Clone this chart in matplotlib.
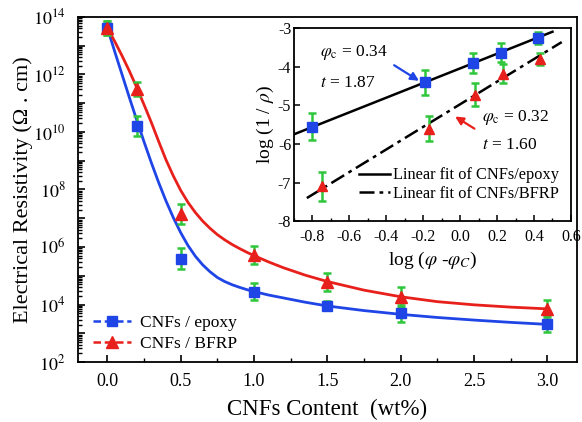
import numpy as np
import matplotlib
matplotlib.use("Agg")
import matplotlib.pyplot as plt
from matplotlib.ticker import MultipleLocator, FixedLocator, FuncFormatter, LogLocator, NullFormatter

plt.rcParams['font.family'] = ['Liberation Serif', 'DejaVu Serif']
plt.rcParams['mathtext.fontset'] = 'stix'
plt.rcParams['axes.unicode_minus'] = False

# ---------------- main data (log10 of resistivity) ----------------
content = [0.0, 0.2, 0.5, 1.0, 1.5, 2.0, 3.0]
epoxy_log = [13.62, 10.2, 5.6, 4.45, 3.96, 3.7, 3.33]
bfrp_log = [13.62, 11.5, 7.15, 5.72, 4.78, 4.25, 3.85]
epoxy_err = [0.25, 0.35, 0.35, 0.3, 0.15, 0.3, 0.3]
bfrp_err = [0.25, 0.25, 0.35, 0.3, 0.3, 0.35, 0.3]

# fitted curves (log10)
curve_x = [0.0, 0.05, 0.1, 0.15, 0.2, 0.25, 0.3, 0.35, 0.4, 0.45, 0.5, 0.55, 0.6, 0.65,
           0.7, 0.75, 0.8, 0.85, 0.9, 0.95, 1.0, 1.1, 1.2, 1.35, 1.5, 1.75, 2.0, 2.25,
           2.5, 2.75, 3.0]
epoxy_curve = [13.62, 12.8, 12.0, 11.2, 10.42, 9.66, 8.93, 8.24, 7.6, 7.02, 6.5, 6.05, 5.68,
               5.38, 5.14, 4.94, 4.8, 4.69, 4.6, 4.52, 4.45, 4.33, 4.23, 4.08, 3.95, 3.79,
               3.66, 3.55, 3.46, 3.38, 3.31]
bfrp_curve = [13.62, 13.15, 12.65, 12.12, 11.55, 10.95, 10.33, 9.67, 9.03, 8.47, 7.97, 7.55,
              7.2, 6.9, 6.65, 6.43, 6.25, 6.09, 5.95, 5.82, 5.7, 5.48, 5.28, 5.02, 4.8, 4.5,
              4.27, 4.1, 3.99, 3.91, 3.85]

# ---------------- inset data ----------------
in_ep_x = [-0.8, -0.19, 0.07, 0.22, 0.42]
in_ep_y = [-5.55, -4.4, -3.9, -3.63, -3.25]
in_ep_err = [0.35, 0.32, 0.25, 0.25, 0.15]
in_bf_x = [-0.75, -0.17, 0.08, 0.23, 0.43]
in_bf_y = [-7.1, -5.6, -4.72, -4.18, -3.8]
in_bf_err = [0.38, 0.32, 0.3, 0.25, 0.15]
fit_ep = (1.9, -4.04)     # slope, intercept
fit_bf = (2.93, -4.97)
fit_ep_range = [-0.9, 0.5]
fit_bf_range = [-0.83, 0.55]

BLUE = '#1f45e6'
RED = '#e8201c'
GREEN = '#2fc63c'

fig = plt.figure(figsize=(5.82, 4.22), dpi=100)
ax = fig.add_axes([0.134, 0.142, 0.857, 0.818])

ep = 10 ** np.array(epoxy_log)
bf = 10 ** np.array(bfrp_log)
epe = np.array(epoxy_err)
bfe = np.array(bfrp_err)

ax.plot(curve_x, 10 ** np.array(epoxy_curve), color=BLUE, lw=2.0, zorder=2)
ax.plot(curve_x, 10 ** np.array(bfrp_curve), color=RED, lw=2.0, zorder=2)
ax.errorbar(content, ep, yerr=[ep - ep / 10 ** epe, ep * 10 ** epe - ep], fmt='none',
            ecolor=GREEN, elinewidth=1.8, capsize=3, capthick=1.8, zorder=3)
ax.errorbar(content, bf, yerr=[bf - bf / 10 ** bfe, bf * 10 ** bfe - bf], fmt='none',
            ecolor=GREEN, elinewidth=1.8, capsize=3, capthick=1.8, zorder=3)
ax.plot(content, ep, 's', color=BLUE, ms=7, zorder=4)
ax.plot(content, bf, '^', color=RED, ms=8, zorder=4)

# legend proxies
h1, = ax.plot([], [], '--s', color=BLUE, ms=7, lw=1.8, dashes=(3, 1.5))
h2, = ax.plot([], [], '--^', color=RED, ms=8, lw=1.8, dashes=(3, 1.5))
leg = ax.legend([h1, h2], ['CNFs / epoxy', 'CNFs / BFRP'], loc='lower left',
                bbox_to_anchor=(0.005, -0.005), frameon=False, fontsize=12.5,
                handlelength=2.2, handletextpad=0.5, labelspacing=0.25, borderaxespad=0.3)

ax.set_yscale('log')
ax.set_ylim(1e2, 1e14)
ax.set_xlim(-0.2, 3.2)
ax.yaxis.set_major_locator(FixedLocator([10.0 ** k for k in range(2, 15)]))
ax.yaxis.set_major_formatter(FuncFormatter(
    lambda v, p: (r'$10^{%d}$' % round(np.log10(v))) if round(np.log10(v)) % 2 == 0 else ''))
ax.yaxis.set_minor_locator(LogLocator(base=10, subs=np.arange(2, 10), numticks=100))
ax.yaxis.set_minor_formatter(NullFormatter())
ax.xaxis.set_major_locator(MultipleLocator(0.5))
ax.xaxis.set_minor_locator(MultipleLocator(0.25))
ax.xaxis.set_major_formatter(FuncFormatter(lambda v, p: '%.1f' % v))
ax.tick_params(which='both', direction='in', labelsize=13)
ax.tick_params(which='major', length=5, width=1.2)
ax.tick_params(which='minor', length=3, width=1)
ax.tick_params(axis='x', pad=8)
ax.tick_params(axis='y', pad=9)
for s in ax.spines.values():
    s.set_linewidth(1.3)
ax.set_xlabel('CNFs Content  (wt%)', fontsize=16.5, labelpad=6)
ax.set_ylabel('Electrical Resistivity (Ω . cm)', fontsize=16, labelpad=0)

# ---------------- inset ----------------
ia = fig.add_axes([0.505, 0.476, 0.476, 0.457])
xs = np.array(fit_ep_range)
ia.plot(xs, fit_ep[0] * xs + fit_ep[1], color='black', lw=1.8, zorder=2,
        label='Linear fit of CNFs/epoxy')
xs2 = np.array(fit_bf_range)
ia.plot(xs2, fit_bf[0] * xs2 + fit_bf[1], color='black', lw=1.8, zorder=2,
        dashes=(6, 2, 1.5, 2), label='Linear fit of CNFs/BFRP')
ia.errorbar(in_ep_x, in_ep_y, yerr=in_ep_err, fmt='none', ecolor=GREEN,
            elinewidth=1.8, capsize=3, capthick=1.8, zorder=3)
ia.errorbar(in_bf_x, in_bf_y, yerr=in_bf_err, fmt='none', ecolor=GREEN,
            elinewidth=1.8, capsize=3, capthick=1.8, zorder=3)
ia.plot(in_ep_x, in_ep_y, 's', color=BLUE, ms=6.5, zorder=4)
ia.plot(in_bf_x, in_bf_y, '^', color=RED, ms=7, zorder=4)
ia.set_xlim(-0.9, 0.6)
ia.set_ylim(-8, -3)
ia.xaxis.set_major_locator(MultipleLocator(0.2))
ia.xaxis.set_minor_locator(MultipleLocator(0.1))
ia.yaxis.set_major_locator(MultipleLocator(1))
ia.xaxis.set_major_formatter(FuncFormatter(lambda v, p: '%.1f' % v))
ia.yaxis.set_major_formatter(FuncFormatter(lambda v, p: '%d' % round(v)))
ia.tick_params(which='both', direction='in', labelsize=11.5)
ia.tick_params(which='major', length=4, width=1.1)
ia.tick_params(which='minor', length=2.5, width=1)
ia.tick_params(axis='y', pad=2)
ia.tick_params(axis='x', pad=6)
for s in ia.spines.values():
    s.set_linewidth(1.3)
ia.set_xlabel(r'log ($\varphi$ -$\varphi_C$)', fontsize=14, labelpad=3)
ia.set_ylabel(r'log (1 / $\rho$)', fontsize=14, labelpad=1)
ia.legend(loc='lower right', bbox_to_anchor=(1.0, 0.04), frameon=False, fontsize=11.8,
          handlelength=1.9, handletextpad=0.2, labelspacing=0.15, borderaxespad=0.3)

ia.text(-0.76, -3.62, r'$\varphi_{\rm c}$ = 0.34', fontsize=12.5, va='center')
ia.text(-0.76, -4.42, r'$t$ = 1.87', fontsize=12.5, va='center')
ia.annotate('', xy=(-0.21, -4.4), xytext=(-0.37, -3.92),
            arrowprops=dict(arrowstyle='-|>', color=BLUE, lw=1.6, mutation_scale=12))
ia.text(0.12, -5.32, r'$\varphi_{\rm c}$ = 0.32', fontsize=12.5, va='center')
ia.text(0.12, -6.03, r'$t$ = 1.60', fontsize=12.5, va='center')
ia.annotate('', xy=(-0.04, -5.25), xytext=(0.09, -5.64),
            arrowprops=dict(arrowstyle='-|>', color=RED, lw=1.6, mutation_scale=12))

fig.savefig('out.png', dpi=100)
